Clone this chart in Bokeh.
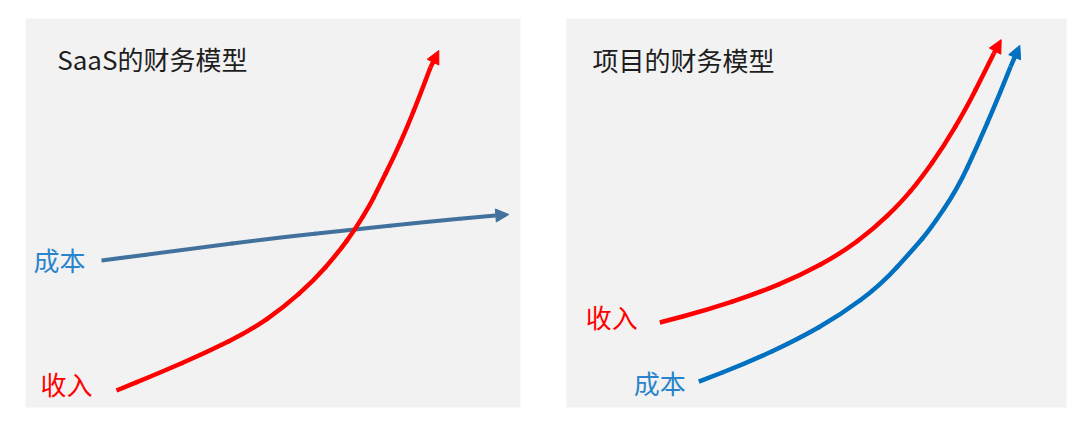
from bokeh.plotting import figure
from bokeh.layouts import row
from bokeh.models import Range1d, Arrow, NormalHead, Label
from bokeh.embed import file_html
from bokeh.resources import INLINE

# ---------------- data (panel units, y up) ----------------
saas_title = "SaaS的财务模型"
proj_title = "项目的财务模型"
label_revenue = "收入"
label_cost = "成本"

# Left panel: SaaS
saas_rev_x = [91, 131.7, 181.7, 225, 258.3, 288.3, 311.7, 330, 345, 351.7, 368.3, 381.7, 395, 405, 413.3]
saas_rev_y = [17, 33.7, 55.3, 77, 100.3, 127, 153.7, 178.7, 203.7, 217, 250.3, 280.3, 313.7, 340.3, 357]
saas_cost_x = [76, 165, 248.3, 330, 398.3, 470, 483.3]
saas_cost_y = [147, 158.7, 169.3, 178, 185.3, 192, 193]

# Right panel: project
proj_rev_x = [93.3, 140.7, 190.7, 234, 274, 307.3, 334, 354, 377.3, 400.7, 417.3, 427.3, 434.7]
proj_rev_y = [85.7, 98.3, 115, 133.3, 155, 180, 206, 230, 263.3, 303.3, 336.7, 356.7, 370.7]
proj_cost_x = [132.3, 180.7, 230.7, 274, 314, 347.3, 364, 390.7, 410.7, 430.7, 444, 453.3]
proj_cost_y = [26, 45, 68.3, 93.3, 123.3, 160, 180, 220, 263.3, 310, 343.3, 365]

RED = "#FF0000"
BLUE_SAAS = "#41719C"
BLUE_PROJ = "#0070C0"
LABEL_BLUE = "#2A84CC"
FONT = "'Noto Sans CJK SC', sans-serif"


def make_panel(width, height, fw, fh, bl, br, bt, bb):
    p = figure(width=width, height=height,
               x_range=Range1d(0, fw), y_range=Range1d(0, fh),
               output_backend="svg", toolbar_location=None,
               x_axis_location=None, y_axis_location=None,
               min_border_left=bl, min_border_right=br,
               min_border_top=bt, min_border_bottom=bb)
    p.grid.visible = False
    p.outline_line_color = None
    p.background_fill_color = "#F2F2F2"
    p.border_fill_color = "white"
    return p


def arrow_curve(p, xs, ys, color, lw):
    # smooth rendering through the read points: quadratic pieces between midpoints
    qx, qy = xs[:-1], ys[:-1]
    mx = [(qx[i] + qx[i + 1]) / 2 for i in range(len(qx) - 1)]
    my = [(qy[i] + qy[i + 1]) / 2 for i in range(len(qy) - 1)]
    p.segment(x0=[qx[0], mx[-1]], y0=[qy[0], my[-1]], x1=[mx[0], qx[-1]], y1=[my[0], qy[-1]],
              line_color=color, line_width=lw, line_cap="butt")
    p.quadratic(x0=mx[:-1], y0=my[:-1], x1=mx[1:], y1=my[1:], cx=qx[1:-1], cy=qy[1:-1],
                line_color=color, line_width=lw, line_cap="round")
    p.add_layout(Arrow(end=NormalHead(size=13, fill_color=color, line_color=color, line_width=1),
                       x_start=xs[-2], y_start=ys[-2], x_end=xs[-1], y_end=ys[-1],
                       line_color=color, line_width=lw))


def add_title(p, text, x, y):
    p.add_layout(Label(x=x, y=y, text=text, text_font=FONT, text_font_size="26px",
                       text_color="#1E1E1E", text_baseline="middle", text_align="left"))


def add_series_label(p, text, xs, ys, color, dx, dy):
    p.add_layout(Label(x=xs[0], y=ys[0], x_offset=dx, y_offset=dy, text=text,
                       text_font=FONT, text_font_size="26px", text_color=color,
                       text_baseline="middle", text_align="right"))


# Left panel
p1 = make_panel(543, 425, 495, 389, 25, 23, 18, 18)
arrow_curve(p1, saas_cost_x, saas_cost_y, BLUE_SAAS, 4)
arrow_curve(p1, saas_rev_x, saas_rev_y, RED, 4.5)
add_title(p1, saas_title, 31.7, 349)
add_series_label(p1, label_cost, saas_cost_x, saas_cost_y, LABEL_BLUE, -16, 1)
add_series_label(p1, label_revenue, saas_rev_x, saas_rev_y, RED, -24, 7)

# Right panel
p2 = make_panel(537, 425, 500, 392, 23, 14, 18, 15)
arrow_curve(p2, proj_rev_x, proj_rev_y, RED, 4.5)
arrow_curve(p2, proj_cost_x, proj_cost_y, BLUE_PROJ, 4.5)
add_title(p2, proj_title, 26, 351)
add_series_label(p2, label_revenue, proj_rev_x, proj_rev_y, RED, -22, 6)
add_series_label(p2, label_cost, proj_cost_x, proj_cost_y, LABEL_BLUE, -13, -1)

layout = row(p1, p2)
open("out.html", "w").write(file_html(layout, INLINE))
